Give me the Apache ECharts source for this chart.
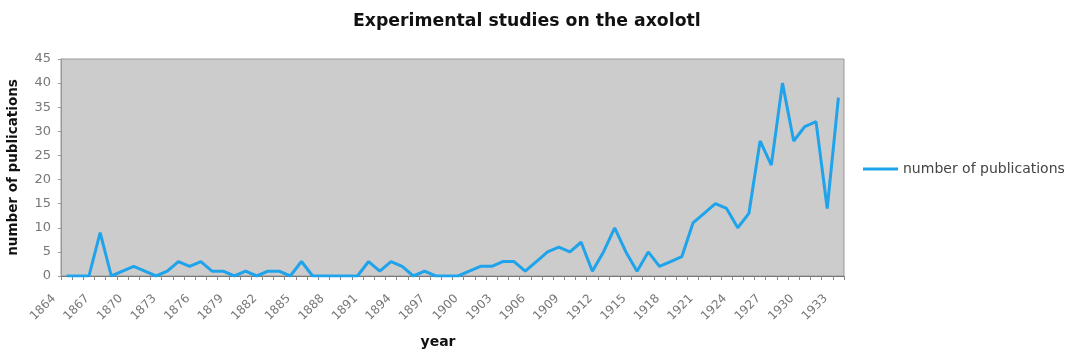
<!DOCTYPE html>
<html>
<head>
<meta charset="utf-8">
<script src="https://cdn.jsdelivr.net/npm/echarts@6/dist/echarts.min.js"></script>
<style>
html,body{margin:0;padding:0;background:#fff;}
#chart{width:1072px;height:354px;}
</style>
</head>
<body>
<div id="chart"></div>
<script>
// categories: every year 1864..1933
const years = ["1864","1865","1866","1867","1868","1869","1870","1871","1872","1873",
"1874","1875","1876","1877","1878","1879","1880","1881","1882","1883",
"1884","1885","1886","1887","1888","1889","1890","1891","1892","1893",
"1894","1895","1896","1897","1898","1899","1900","1901","1902","1903",
"1904","1905","1906","1907","1908","1909","1910","1911","1912","1913",
"1914","1915","1916","1917","1918","1919","1920","1921","1922","1923",
"1924","1925","1926","1927","1928","1929","1930","1931","1932","1933"];
const publications = [0,0,0,9,0,1,2,1,0,1,
3,2,3,1,1,0,1,0,1,1,
0,3,0,0,0,0,0,3,1,3,
2,0,1,0,0,0,1,2,2,3,
3,1,3,5,6,5,7,1,5,10,
5,1,5,2,3,4,11,13,15,14,
10,13,28,23,40,28,31,32,14,37];
const yTicks = [0,5,10,15,20,25,30,35,40,45];

const chart = echarts.init(document.getElementById('chart'), null, {renderer:'canvas'});
const FONT = '"DejaVu Sans", Verdana, sans-serif';
chart.setOption({
  animation: false,
  backgroundColor: '#ffffff',
  title: {
    text: 'Experimental studies on the axolotl',
    left: 353, top: 13, padding: 0,
    textStyle: {fontFamily: FONT, fontSize: 17.3, fontWeight: 'bold', color: '#111'}
  },
  legend: {
    left: 863, top: 162, padding: 0,
    icon: 'rect', itemWidth: 35, itemHeight: 3, itemGap: 5,
    textStyle: {fontFamily: FONT, fontSize: 14, color: '#444'},
    data: ['number of publications']
  },
  grid: {
    left: 61, right: 228, top: 59, bottom: 78,
    containLabel: false, outerBoundsMode: 'none',
    show: true, backgroundColor: '#cccccc', borderColor: '#999999', borderWidth: 1
  },
  xAxis: {
    type: 'category',
    data: years,
    boundaryGap: true,
    name: 'year',
    nameLocation: 'middle',
    nameGap: 59,
    nameMoveOverlap: false,
    nameTextStyle: {fontFamily: FONT, fontSize: 14, fontWeight: 'bold', color: '#111', padding: [0, 29, 0, 0]},
    axisLine: {lineStyle: {color: '#777777', width: 1}},
    axisTick: {show: true, interval: 0, length: 4, lineStyle: {color: '#888888'}},
    axisLabel: {interval: 2, rotate: 45, margin: 8, padding: [0, 18, 0, 0],
      fontFamily: FONT, fontSize: 12, color: '#777777'},
    splitLine: {show: false}
  },
  yAxis: {
    type: 'value',
    min: 0, max: 45, interval: 5,
    name: 'number of publications',
    nameLocation: 'middle',
    nameGap: 41,
    nameMoveOverlap: false,
    nameTextStyle: {fontFamily: FONT, fontSize: 13.5, fontWeight: 'bold', color: '#111'},
    axisLine: {show: true, lineStyle: {color: '#999999'}},
    axisTick: {show: true, length: 3, lineStyle: {color: '#999999'}},
    axisLabel: {margin: 10, fontFamily: FONT, fontSize: 13, color: '#777777',
      formatter: v => yTicks.includes(v) ? String(v) : ''},
    splitLine: {show: false}
  },
  series: [{
    name: 'number of publications',
    type: 'line',
    data: publications,
    symbol: 'none',
    lineStyle: {color: '#1fa3ea', width: 3},
    itemStyle: {color: '#1fa3ea'}
  }]
});
</script>
</body>
</html>
